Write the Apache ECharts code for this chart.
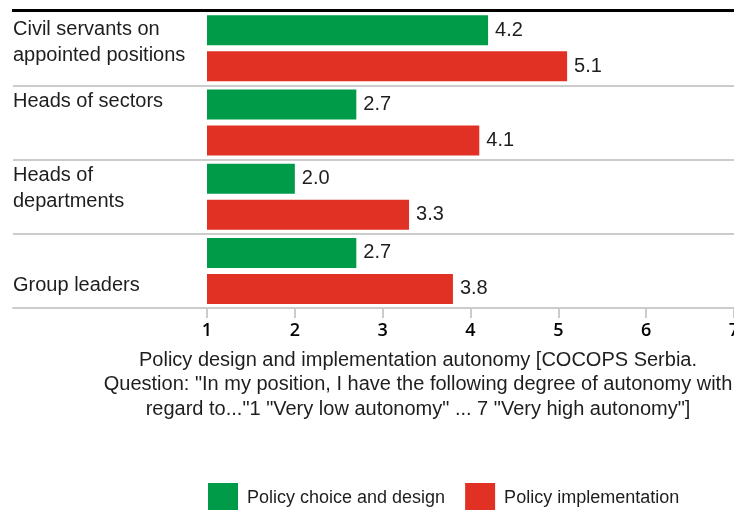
<!DOCTYPE html>
<html>
<head>
<meta charset="utf-8">
<script src="https://cdn.jsdelivr.net/npm/echarts@6/dist/echarts.min.js"></script>
<style>
  html, body { margin: 0; padding: 0; background: #ffffff; }
  #chart { width: 734px; height: 510px; }
</style>
</head>
<body>
<div id="chart"></div>
<script>
// Autonomy scores by position level (scale 1-7)
const categories = [
  'Civil servants on\nappointed positions',
  'Heads of sectors',
  'Heads of\ndepartments',
  'Group leaders'
];
const policyChoice = [4.2, 2.7, 2.0, 2.7];
const policyImplementation = [5.1, 4.1, 3.3, 3.8];
const seriesNames = ['Policy choice and design', 'Policy implementation'];
const xTicks = [1, 2, 3, 4, 5, 6, 7];
const axisTitle = 'Policy design and implementation autonomy [COCOPS Serbia.\n' +
  'Question: "In my position, I have the following degree of autonomy with\n' +
  'regard to..."1 "Very low autonomy" ... 7 "Very high autonomy"]';

// Styling
const FONT = "'Liberation Sans', Arial, sans-serif";
const GREEN = '#009B48';
const RED = '#E03124';
const RULE = '#cccccc';
const TEXT = '#1e1e1e';
const PLOT_TOP = 11;
const PLOT_BOTTOM = 202;   // baseline sits at y = 308
// vertical nudge of each category label (px, negative = up)
const labelShift = [-6, -20.5, -8, 15];

// rich styles: 't' for the label text, 'g<i>' for an invisible spacer line
// that moves label i off the band centre
const labelRich = {
  t: { fontFamily: FONT, fontSize: 20, lineHeight: 26, color: TEXT }
};
labelShift.forEach((s, i) => {
  labelRich['g' + i] = { fontSize: 1, lineHeight: Math.abs(s) * 2, color: 'rgba(0,0,0,0)' };
});

function categoryLabel(value, index) {
  const body = String(value).split('\n').map(line => '{t|' + line + '}').join('\n');
  const spacer = '{g' + index + '| }';
  return labelShift[index] < 0 ? body + '\n' + spacer : spacer + '\n' + body;
}

const chart = echarts.init(document.getElementById('chart'), null, { renderer: 'canvas' });

const valueLabel = {
  show: true,
  position: 'right',
  distance: 7,
  fontFamily: FONT,
  fontSize: 20,
  color: TEXT,
  formatter: p => p.value.toFixed(1)
};

chart.setOption({
  animation: false,
  backgroundColor: '#ffffff',
  textStyle: { fontFamily: FONT },
  grid: [
    // plot area
    { left: 207, right: 0, top: PLOT_TOP, bottom: PLOT_BOTTOM, outerBoundsMode: 'none', containLabel: false },
    // label column: category names, separators and baseline on the left
    { left: 13, width: 194, top: PLOT_TOP, bottom: PLOT_BOTTOM, outerBoundsMode: 'none', containLabel: false }
  ],
  xAxis: [
    {
      gridIndex: 0,
      type: 'value',
      min: xTicks[0],
      max: xTicks[xTicks.length - 1],
      interval: 1,
      axisLine: { show: true, lineStyle: { color: RULE, width: 2 } },
      axisTick: { show: true, length: 10, lineStyle: { color: RULE, width: 2 } },
      splitLine: { show: false },
      axisLabel: {
        margin: 14,
        fontFamily: "'Open Sans', 'Noto Sans', sans-serif",
        fontSize: 18,
        fontWeight: 600,
        color: '#000000',
        showMaxLabel: true,
        showMinLabel: true
      },
      name: axisTitle,
      nameLocation: 'middle',
      nameGap: 40,
      nameTextStyle: {
        fontFamily: FONT,
        fontSize: 20,
        lineHeight: 24.5,
        color: TEXT,
        align: 'center',
        padding: [0, 105, 0, 0]
      }
    },
    {
      gridIndex: 1,
      type: 'value',
      min: 0,
      max: 1,
      axisLine: { show: true, lineStyle: { color: RULE, width: 2 } },
      axisTick: { show: false },
      axisLabel: { show: false },
      splitLine: { show: false }
    }
  ],
  yAxis: [
    {
      gridIndex: 0,
      type: 'category',
      inverse: true,
      data: categories,
      axisLine: { show: false },
      axisTick: { show: false },
      axisLabel: { show: false },
      splitLine: { show: true, lineStyle: { color: RULE, width: 2 } }
    },
    {
      gridIndex: 1,
      type: 'category',
      inverse: true,
      data: categories,
      axisLine: { show: false },
      axisTick: { show: false },
      splitLine: { show: true, lineStyle: { color: RULE, width: 2 } },
      axisLabel: {
        inside: true,
        margin: 0,
        align: 'left',
        interval: 0,
        formatter: categoryLabel,
        rich: labelRich
      }
    }
  ],
  legend: {
    left: 208,
    top: 483,
    padding: 0,
    itemWidth: 30,
    itemHeight: 30,
    itemGap: 20,
    icon: 'rect',
    data: seriesNames,
    textStyle: { fontFamily: FONT, fontSize: 18, color: TEXT, padding: [0, 0, 0, 4] }
  },
  graphic: [
    {
      type: 'line',
      shape: { x1: 12, y1: 10.5, x2: 734, y2: 10.5 },
      style: { stroke: '#000000', lineWidth: 3 },
      z: 10
    }
  ],
  series: [
    {
      name: seriesNames[0],
      type: 'bar',
      xAxisIndex: 0,
      yAxisIndex: 0,
      data: policyChoice,
      barWidth: 30,
      barGap: '20%',
      itemStyle: { color: GREEN },
      label: valueLabel
    },
    {
      name: seriesNames[1],
      type: 'bar',
      xAxisIndex: 0,
      yAxisIndex: 0,
      data: policyImplementation,
      barWidth: 30,
      barGap: '20%',
      itemStyle: { color: RED },
      label: valueLabel
    }
  ]
});
</script>
</body>
</html>
